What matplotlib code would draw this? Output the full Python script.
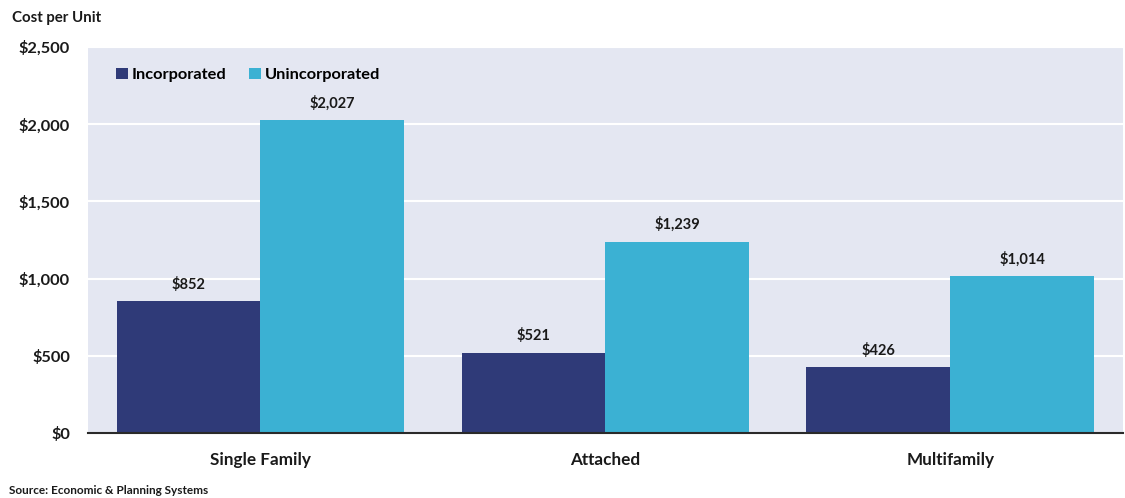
import matplotlib
matplotlib.use("Agg")
import matplotlib.pyplot as plt
import numpy as np
from matplotlib.ticker import FuncFormatter

categories = ["Single Family", "Attached", "Multifamily"]
incorporated = [852, 521, 426]
unincorporated = [2027, 1239, 1014]
series_names = ["Incorporated", "Unincorporated"]
colors = ["#2f3a78", "#3bb1d3"]

plt.rcParams['font.family'] = ['Lato', 'DejaVu Sans']
plt.rcParams['font.weight'] = 'bold'

fig = plt.figure(figsize=(11.25, 4.98), dpi=100)
fig.patch.set_facecolor("white")
ax = fig.add_axes([0.0782, 0.1305, 0.9198, 0.7751])
ax.set_facecolor("#e4e7f2")

x = np.arange(len(categories))
w = 0.417
b1 = ax.bar(x - w / 2, incorporated, w, color=colors[0], label=series_names[0], zorder=3)
b2 = ax.bar(x + w / 2, unincorporated, w, color=colors[1], label=series_names[1], zorder=3)

for bars, vals in ((b1, incorporated), (b2, unincorporated)):
    for r, v in zip(bars, vals):
        ax.annotate(f"${v:,}", (r.get_x() + r.get_width() / 2, v), xytext=(0, 7),
                    textcoords="offset points", ha="center", va="bottom",
                    fontsize=10.5, fontweight="bold", color="#1a1a1a")

ax.set_xlim(-0.5, 2.5)
ax.set_ylim(0, 2500)
ax.set_yticks(np.arange(0, 2501, 500))
ax.yaxis.set_major_formatter(FuncFormatter(lambda v, p: f"${int(v):,}"))
ax.set_xticks(x)
ax.set_xticklabels(categories)
ax.tick_params(axis="y", length=0, pad=13, labelsize=11.8, labelcolor="#1a1a1a")
ax.tick_params(axis="x", length=0, pad=14, labelsize=12.3, labelcolor="#1a1a1a")
for t in ax.get_xticklabels() + ax.get_yticklabels():
    t.set_fontweight("bold")

ax.grid(axis="y", color="white", linewidth=1.5, zorder=1)
ax.set_axisbelow(True)
for s in ["top", "right", "left"]:
    ax.spines[s].set_visible(False)
ax.spines["bottom"].set_color("#2a2a2a")
ax.spines["bottom"].set_linewidth(1.5)
ax.spines["bottom"].set_zorder(4)

leg = ax.legend(loc="upper left", bbox_to_anchor=(0.013, 0.985), ncol=2, frameon=False,
                handlelength=0.7, handleheight=0.7, handletextpad=0.25, columnspacing=1.4,
                prop={"size": 11.8, "weight": "bold"})

fig.text(0.011, 0.963, "Cost per Unit", fontsize=10.8, fontweight="bold", ha="left", va="center", color="#1a1a1a")
fig.text(0.008, 0.016, "Source: Economic & Planning Systems", fontsize=8.5, fontweight="bold", ha="left", va="center", color="#1a1a1a")

fig.savefig("out.png", dpi=100)
